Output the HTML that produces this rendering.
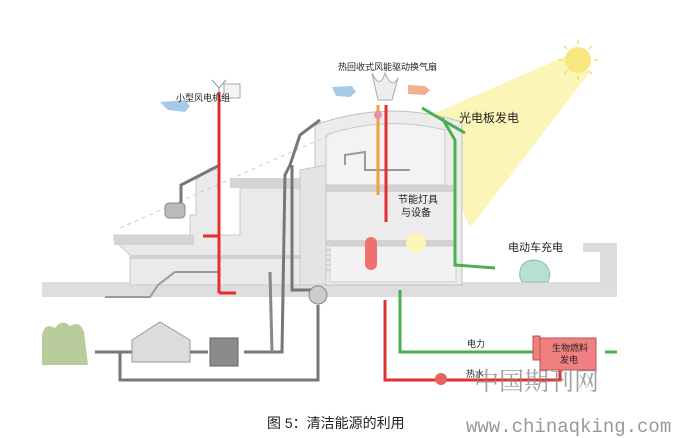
<!DOCTYPE html>
<html><head><meta charset="utf-8"><style>
body{margin:0;background:#fff;}
svg{display:block;font-family:"Liberation Sans","Noto Sans CJK SC",sans-serif;}
</style></head><body>
<svg width="698" height="438" viewBox="0 0 698 438">
<!-- sun beam -->
<polygon points="566,56 590,72 470,228 424,118" fill="#fbf5b0" opacity="0.9"/>
<circle cx="578" cy="60" r="13" fill="#f8e680"/>
<g stroke="#f5dc70" stroke-width="1.5">
<line x1="578" y1="40" x2="578" y2="44"/><line x1="578" y1="76" x2="578" y2="80"/>
<line x1="558" y1="60" x2="562" y2="60"/><line x1="594" y1="60" x2="598" y2="60"/>
<line x1="564" y1="46" x2="567" y2="49"/><line x1="589" y1="71" x2="592" y2="74"/>
<line x1="592" y1="46" x2="589" y2="49"/><line x1="567" y1="71" x2="564" y2="74"/>
</g>
<!-- ground -->
<rect x="42" y="282" width="575" height="15" fill="#dedede"/>
<!-- left building -->
<path d="M130,255 L114,240 L114,235 L190,235 L190,215 L196,215 L196,180 L210,168 L218,170 L218,235 L240,235 L240,188 L300,188 L300,285 L130,285 Z" fill="#eaeaea" stroke="#c8c8c8"/>
<rect x="230" y="178" width="70" height="10" fill="#d4d4d4"/>
<rect x="114" y="235" width="80" height="10" fill="#d4d4d4"/>
<rect x="130" y="255" width="170" height="4" fill="#d0d0d0"/>
<!-- main building -->
<path d="M315,285 L315,125 Q385,100 455,120 L462,122 L462,285 Z" fill="#ececec" stroke="#c0c0c0"/>
<path d="M326,135 Q385,115 445,130 L445,185 L326,185 Z" fill="#f3f3f3" stroke="#c8c8c8"/>
<rect x="326" y="185" width="130" height="7" fill="#d2d2d2"/>
<rect x="316" y="240" width="140" height="6" fill="#d2d2d2"/>
<rect x="330" y="246" width="126" height="36" fill="#f2f2f2" stroke="#ccc"/>
<circle cx="416" cy="243" r="10" fill="#fbf5b8"/>
<g stroke="#bbb"><line x1="318" y1="250" x2="330" y2="250"/><line x1="318" y1="255" x2="330" y2="255"/><line x1="318" y1="260" x2="330" y2="260"/><line x1="318" y1="265" x2="330" y2="265"/><line x1="318" y1="270" x2="330" y2="270"/></g>
<path d="M300,170 L326,165 L326,285 L300,285 Z" fill="#e4e4e4" stroke="#c8c8c8"/>
<!-- right wall -->
<path d="M583,243 L617,243 L617,285 L600,285 L600,252 L583,252 Z" fill="#dcdcdc"/>
<line x1="120" y1="228" x2="330" y2="135" stroke="#ccc" stroke-dasharray="4,4"/>
<!-- turbine -->
<g stroke="#999" stroke-width="1"><line x1="219" y1="88" x2="212" y2="80"/><line x1="219" y1="88" x2="226" y2="80"/><line x1="219" y1="88" x2="219" y2="98"/></g>
<rect x="224" y="84" width="16" height="14" fill="#f4f4f4" stroke="#aaa"/>
<!-- gray pipes -->
<g fill="none" stroke="#777" stroke-width="3">
<path d="M181,205 L181,185 L218,166"/>
<path d="M320,120 L300,135 L290,165 L285,175 L282,352 L244,352"/>
<path d="M292,165 L292,290 L318,290"/>
<path d="M208,352 L95,352"/>
<path d="M120,352 L120,380 L318,380 L318,305"/>
<path d="M270,272 L272,352" stroke="#888"/>
<path d="M105,297 L150,297 L158,285 L175,272 L218,272" stroke="#999" stroke-width="2"/>
<path d="M345,165 L345,155 L365,152 L365,170 L410,170" stroke="#999" stroke-width="2"/>
</g>
<circle cx="318" cy="295" r="9" fill="#ccc" stroke="#888"/>
<rect x="210" y="338" width="28" height="28" fill="#8a8a8a" stroke="#666"/>
<path d="M132,340 L160,322 L190,340 L190,362 L132,362 Z" fill="#dcdcdc" stroke="#999"/>
<rect x="165" y="203" width="20" height="15" rx="4" fill="#bbb" stroke="#888"/>
<path d="M42,365 L42,335 Q45,322 55,328 Q62,318 70,326 Q80,320 84,332 L88,365 Z" fill="#b9cc9c"/>
<!-- red lines -->
<g fill="none" stroke="#e03030" stroke-width="3">
<path d="M219,92 L219,293"/><path d="M203,236 L219,236"/><path d="M219,293 L236,293"/>
<path d="M386,105 L386,222"/>
<path d="M385,300 L385,380 L560,380 L560,362"/>
</g>
<line x1="378" y1="105" x2="378" y2="195" stroke="#f0a040" stroke-width="3"/>
<circle cx="441" cy="379" r="6" fill="#e86060"/>
<rect x="365" y="237" width="12" height="33" rx="6" fill="#f07070"/>
<!-- green lines -->
<g fill="none" stroke="#4caf50" stroke-width="3">
<path d="M422,108 L465,133"/>
<path d="M442,118 L455,140 L455,265 L495,268"/>
<path d="M400,290 L400,352 L540,352"/>
<path d="M605,352 L617,352"/>
</g>
<rect x="540" y="338" width="56" height="32" fill="#f08080" stroke="#c05050"/>
<rect x="533" y="336" width="7" height="24" fill="#f08080" stroke="#c05050"/>
<path d="M520,278 Q518,262 532,260 Q548,260 550,275 L548,282 L522,282 Z" fill="#b8e0d0" stroke="#8bb"/>
<circle cx="378" cy="115" r="4" fill="#e890b0"/>
<path d="M160,102 L185,100 L190,106 L185,112 L168,110 Z" fill="#a8c8e8"/>
<path d="M332,87 L352,86 L356,92 L350,97 L336,96 Z" fill="#a8c8e8"/>
<path d="M408,85 L425,86 L430,90 L425,95 L408,94 Z" fill="#f0b090"/>
<path d="M372,73 Q380,90 385,73 Q392,90 398,78 L392,100 L378,100 Z" fill="#eeeeee" stroke="#aaa"/>
<g fill="#222">
<text x="176" y="101" font-size="9">小型风电机组</text>
<text x="338" y="70" font-size="9">热回收式风能驱动换气扇</text>
<text x="459" y="122" font-size="12">光电板发电</text>
<text x="398" y="203" font-size="10">节能灯具</text>
<text x="401" y="216" font-size="10">与设备</text>
<text x="508" y="251" font-size="11">电动车充电</text>
<text x="467" y="347" font-size="9">电力</text>
<text x="466" y="377" font-size="9">热水</text>
<text x="552" y="351" font-size="9">生物燃料</text>
<text x="560" y="363" font-size="9">发电</text>
<text x="267" y="428" font-size="14">图 5：清洁能源的利用</text>
</g>
<text x="474" y="390" font-size="25" fill="#888" font-family="'Noto Serif CJK SC',serif" opacity="0.8">中国期刊网</text>
<text x="466" y="432" font-size="19" fill="#999" font-family="'Liberation Mono',monospace">www.chinaqking.com</text>
</svg>
</body></html>
